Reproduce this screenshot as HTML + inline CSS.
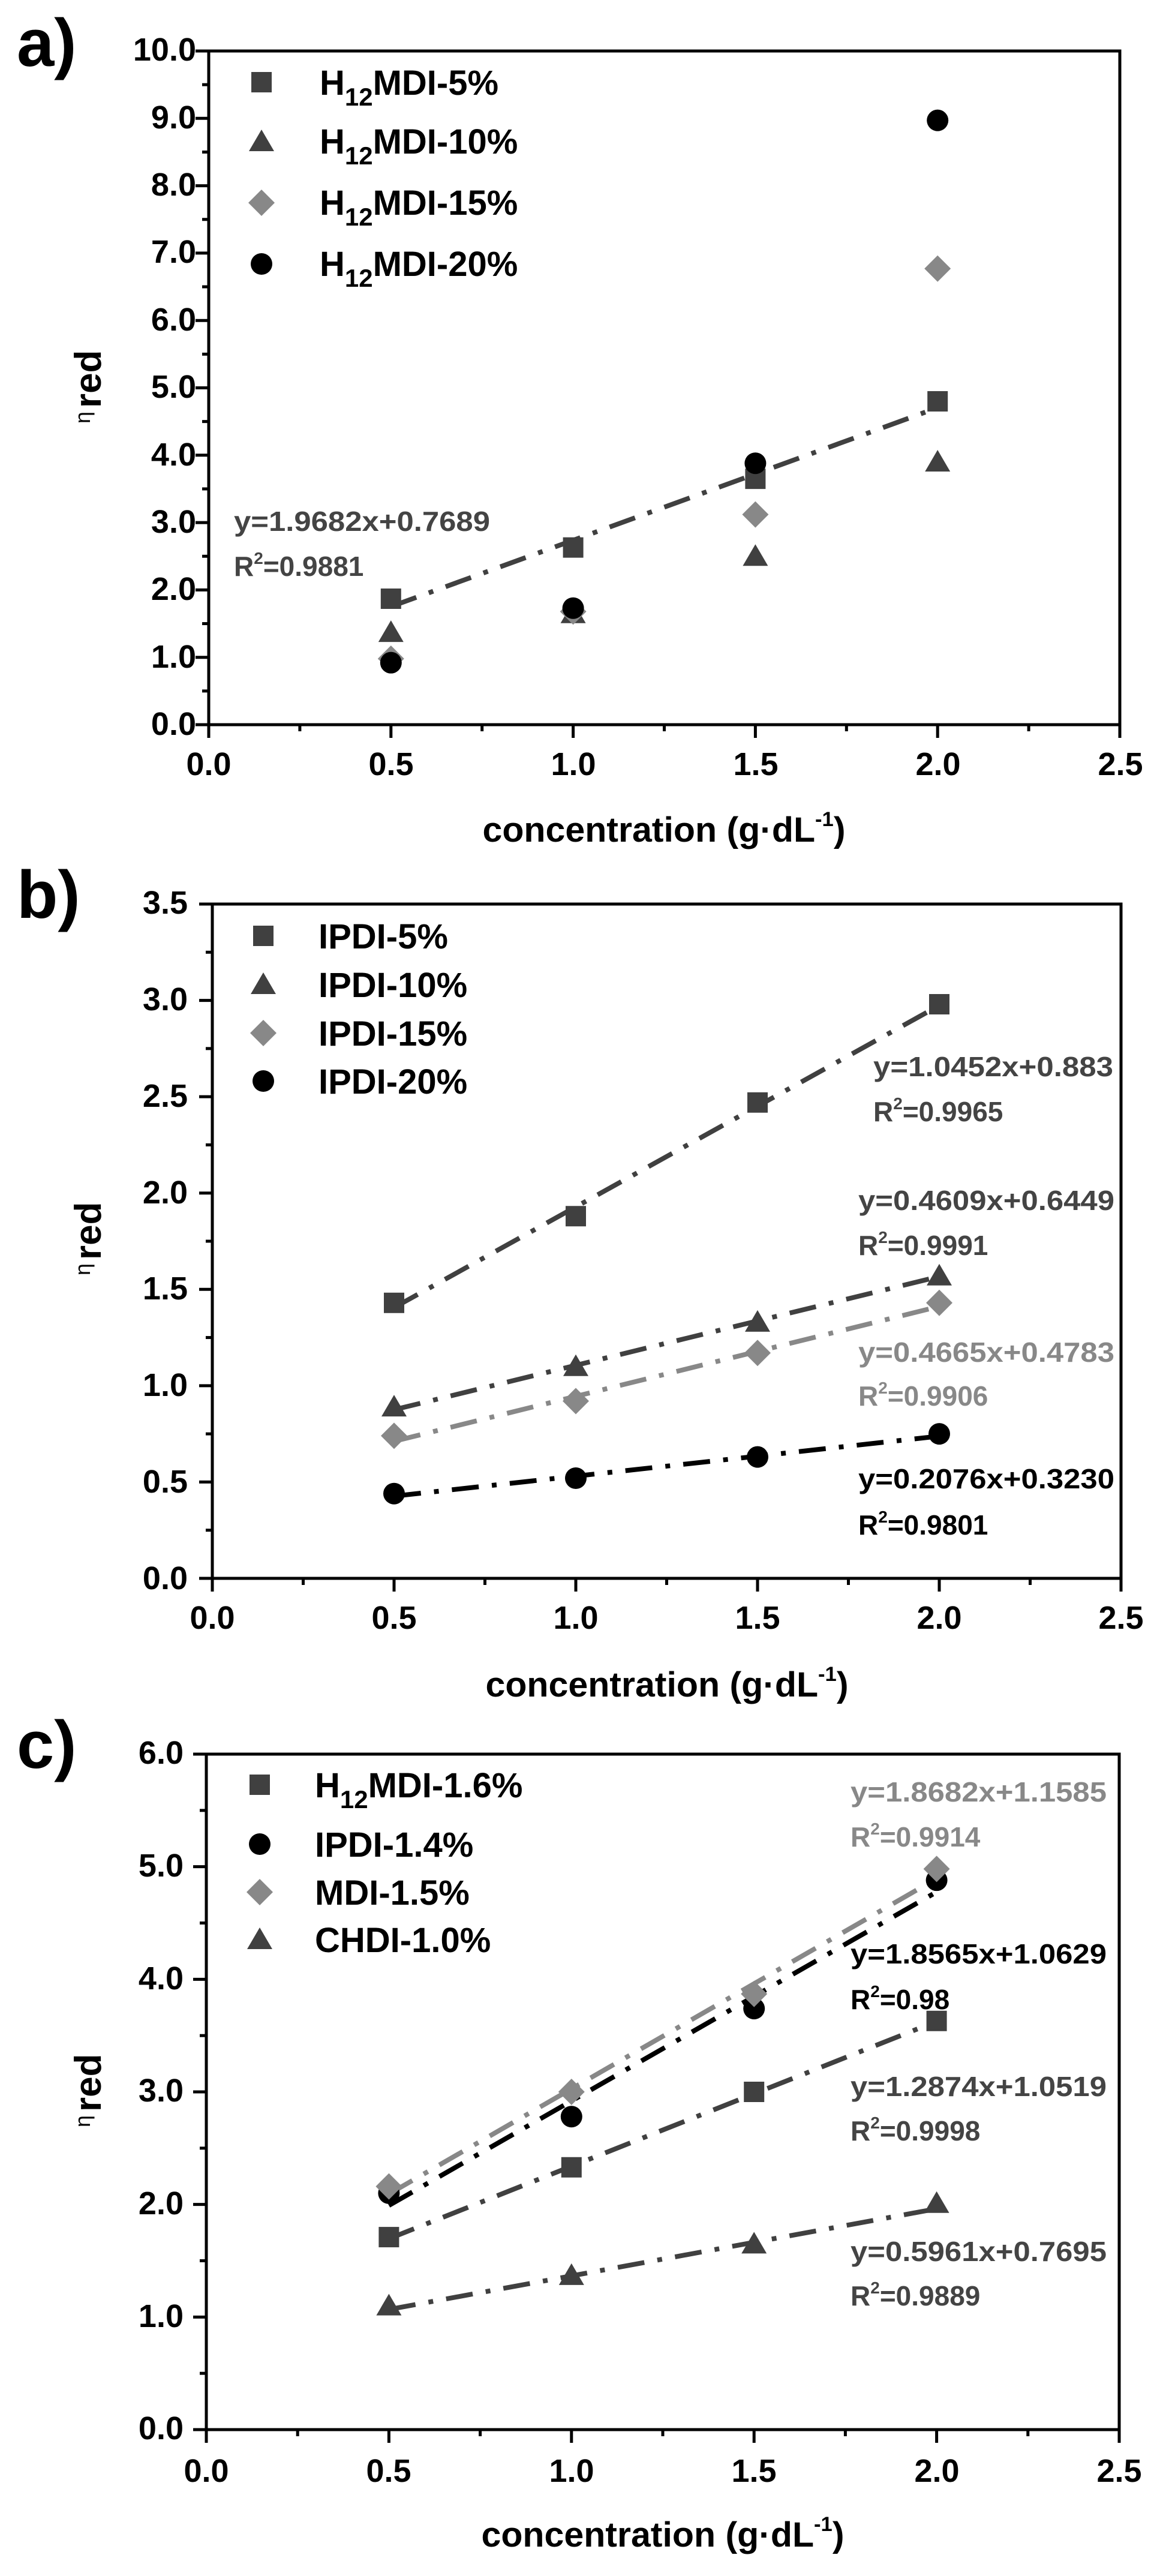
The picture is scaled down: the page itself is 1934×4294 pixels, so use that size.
<!DOCTYPE html>
<html><head><meta charset="utf-8"><style>
html,body{margin:0;padding:0;background:#fff;}
svg{display:block;font-family:"Liberation Sans",Arial,sans-serif;font-weight:bold;}
</style></head><body>
<svg id="s" width="1934" height="4294" viewBox="0 0 1934 4294" xmlns="http://www.w3.org/2000/svg">
<rect width="1934" height="4294" fill="#fff"/>
<g id="g"></g>
<text x="28" y="110" font-size="112">a)</text>
<text x="28" y="1530" font-size="112">b)</text>
<text x="28" y="2947" font-size="112">c)</text>

<g font-size="62">
<text transform="translate(168,680) rotate(-90)">red</text>
<text transform="translate(168,2100) rotate(-90)">red</text>
<text transform="translate(168,3520) rotate(-90)">red</text>
</g>
<g font-size="36" font-weight="normal">
<text transform="translate(150,706) rotate(-90)">η</text>
<text transform="translate(150,2126) rotate(-90)">η</text>
<text transform="translate(150,3546) rotate(-90)">η</text>
</g>

<g font-size="58" text-anchor="middle">
<text x="1107" y="1403" textLength="605" lengthAdjust="spacingAndGlyphs">concentration (g·dL<tspan font-size="34" dy="-26">-1</tspan><tspan dy="26">)</tspan></text>
<text x="1112" y="2828" textLength="605" lengthAdjust="spacingAndGlyphs">concentration (g·dL<tspan font-size="34" dy="-26">-1</tspan><tspan dy="26">)</tspan></text>
<text x="1105" y="4245" textLength="605" lengthAdjust="spacingAndGlyphs">concentration (g·dL<tspan font-size="34" dy="-26">-1</tspan><tspan dy="26">)</tspan></text>
</g>

<g font-size="54" text-anchor="end">
<text x="327" y="101">10.0</text><text x="327" y="214">9.0</text><text x="327" y="326">8.0</text><text x="327" y="438">7.0</text><text x="327" y="551">6.0</text><text x="327" y="663">5.0</text><text x="327" y="776">4.0</text><text x="327" y="888">3.0</text><text x="327" y="1000">2.0</text><text x="327" y="1113">1.0</text><text x="327" y="1225">0.0</text>
</g>
<g font-size="54" text-anchor="middle">
<text x="348" y="1292">0.0</text><text x="652" y="1292">0.5</text><text x="956" y="1292">1.0</text><text x="1260" y="1292">1.5</text><text x="1564" y="1292">2.0</text><text x="1868" y="1292">2.5</text>
</g>
<g font-size="54" text-anchor="end">
<text x="313" y="1523">3.5</text><text x="313" y="1684">3.0</text><text x="313" y="1845">2.5</text><text x="313" y="2006">2.0</text><text x="313" y="2166">1.5</text><text x="313" y="2327">1.0</text><text x="313" y="2488">0.5</text><text x="313" y="2649">0.0</text>
</g>
<g font-size="54" text-anchor="middle">
<text x="354" y="2715">0.0</text><text x="657" y="2715">0.5</text><text x="960" y="2715">1.0</text><text x="1263" y="2715">1.5</text><text x="1566" y="2715">2.0</text><text x="1869" y="2715">2.5</text>
</g>
<g font-size="54" text-anchor="end">
<text x="306" y="2940">6.0</text><text x="306" y="3128">5.0</text><text x="306" y="3316">4.0</text><text x="306" y="3503">3.0</text><text x="306" y="3691">2.0</text><text x="306" y="3879">1.0</text><text x="306" y="4066">0.0</text>
</g>
<g font-size="54" text-anchor="middle">
<text x="344" y="4137">0.0</text><text x="648" y="4137">0.5</text><text x="953" y="4137">1.0</text><text x="1257" y="4137">1.5</text><text x="1562" y="4137">2.0</text><text x="1866" y="4137">2.5</text>
</g>

<g font-size="58">
<text x="533" y="158">H<tspan font-size="42" dy="18">12</tspan><tspan dy="-18">MDI-5%</tspan></text>
<text x="533" y="256">H<tspan font-size="42" dy="18">12</tspan><tspan dy="-18">MDI-10%</tspan></text>
<text x="533" y="358">H<tspan font-size="42" dy="18">12</tspan><tspan dy="-18">MDI-15%</tspan></text>
<text x="533" y="460">H<tspan font-size="42" dy="18">12</tspan><tspan dy="-18">MDI-20%</tspan></text>
<text x="531" y="1581">IPDI-5%</text>
<text x="531" y="1662">IPDI-10%</text>
<text x="531" y="1743">IPDI-15%</text>
<text x="531" y="1823">IPDI-20%</text>
<text x="525" y="2996">H<tspan font-size="42" dy="18">12</tspan><tspan dy="-18">MDI-1.6%</tspan></text>
<text x="525" y="3095">IPDI-1.4%</text>
<text x="525" y="3175">MDI-1.5%</text>
<text x="525" y="3254">CHDI-1.0%</text>
</g>

<g font-size="46">
<text x="390" y="885" fill="#444" textLength="427" lengthAdjust="spacingAndGlyphs">y=1.9682x+0.7689</text>
<text x="390" y="960" fill="#444">R<tspan font-size="28" dy="-20">2</tspan><tspan dy="20">=0.9881</tspan></text>

<text x="1456" y="1794" fill="#444" textLength="400" lengthAdjust="spacingAndGlyphs">y=1.0452x+0.883</text>
<text x="1456" y="1869" fill="#444">R<tspan font-size="28" dy="-20">2</tspan><tspan dy="20">=0.9965</tspan></text>
<text x="1431" y="2017" fill="#444" textLength="427" lengthAdjust="spacingAndGlyphs">y=0.4609x+0.6449</text>
<text x="1431" y="2092" fill="#444">R<tspan font-size="28" dy="-20">2</tspan><tspan dy="20">=0.9991</tspan></text>
<text x="1431" y="2270" fill="#888" textLength="427" lengthAdjust="spacingAndGlyphs">y=0.4665x+0.4783</text>
<text x="1431" y="2343" fill="#888">R<tspan font-size="28" dy="-20">2</tspan><tspan dy="20">=0.9906</tspan></text>
<text x="1431" y="2481" fill="#000" textLength="427" lengthAdjust="spacingAndGlyphs">y=0.2076x+0.3230</text>
<text x="1431" y="2558" fill="#000">R<tspan font-size="28" dy="-20">2</tspan><tspan dy="20">=0.9801</tspan></text>

<text x="1418" y="3003" fill="#888" textLength="427" lengthAdjust="spacingAndGlyphs">y=1.8682x+1.1585</text>
<text x="1418" y="3078" fill="#888">R<tspan font-size="28" dy="-20">2</tspan><tspan dy="20">=0.9914</tspan></text>
<text x="1418" y="3273" fill="#000" textLength="427" lengthAdjust="spacingAndGlyphs">y=1.8565x+1.0629</text>
<text x="1418" y="3349" fill="#000">R<tspan font-size="28" dy="-20">2</tspan><tspan dy="20">=0.98</tspan></text>
<text x="1418" y="3494" fill="#444" textLength="427" lengthAdjust="spacingAndGlyphs">y=1.2874x+1.0519</text>
<text x="1418" y="3568" fill="#444">R<tspan font-size="28" dy="-20">2</tspan><tspan dy="20">=0.9998</tspan></text>
<text x="1418" y="3769" fill="#444" textLength="427" lengthAdjust="spacingAndGlyphs">y=0.5961x+0.7695</text>
<text x="1418" y="3843" fill="#444">R<tspan font-size="28" dy="-20">2</tspan><tspan dy="20">=0.9889</tspan></text>
</g>
</svg>
<script>
(function(){
var NS="http://www.w3.org/2000/svg",g=document.getElementById("g");
function el(t,a){var e=document.createElementNS(NS,t);for(var k in a)e.setAttribute(k,a[k]);g.appendChild(e);return e;}
function marker(type,cx,cy,col){
 var s=17;
 if(type=="sq")el("rect",{x:cx-s,y:cy-s,width:2*s,height:2*s,fill:col});
 else if(type=="ci")el("circle",{cx:cx,cy:cy,r:18,fill:col});
 else if(type=="tr")el("polygon",{points:(cx)+","+(cy-20)+" "+(cx+21)+","+(cy+16)+" "+(cx-21)+","+(cy+16),fill:col});
 else if(type=="di")el("polygon",{points:cx+","+(cy-22)+" "+(cx+22)+","+cy+" "+cx+","+(cy+22)+" "+(cx-22)+","+cy,fill:col});
}
function panel(P){
 var X=function(v){return P.l+(P.r-P.l)*v/2.5},Y=function(v){return P.b-(P.b-P.t)*v/P.ymax};
 P.fits.forEach(function(f){el("line",{x1:X(0.5),y1:Y(f.m*0.5+f.c),x2:X(2),y2:Y(f.m*2+f.c),stroke:f.col,"stroke-width":8,"stroke-dasharray":"45,22,8,22"});});
 P.series.forEach(function(s){s.d.forEach(function(v,i){marker(s.t,X(0.5*(i+1)),Y(v),s.c);});});
 P.leg.forEach(function(L){marker(L.t,L.x,L.y,L.c);});
 el("rect",{x:P.l,y:P.t,width:P.r-P.l,height:P.b-P.t,fill:"none",stroke:"#000","stroke-width":5});
 for(var i=0;i<=10;i++){var x=X(i*0.25);el("line",{x1:x,y1:P.b,x2:x,y2:P.b+(i%2?11:22),stroke:"#000","stroke-width":5});}
 var n=P.ymax/P.ystep*2;
 for(var j=0;j<=n;j++){var y=Y(j*P.ystep/2);el("line",{x1:P.l,y1:y,x2:P.l-(j%2?11:22),y2:y,stroke:"#000","stroke-width":5});}
}
var dk="#404040",gr="#888888",bk="#000";
panel({l:348,r:1867,t:85,b:1208,ymax:10,ystep:1,
 fits:[{m:1.9682,c:0.7689,col:dk}],
 series:[{t:"tr",c:dk,d:[1.37,1.65,2.5,3.9]},{t:"di",c:gr,d:[0.98,1.68,3.12,6.77]},{t:"sq",c:dk,d:[1.87,2.63,3.65,4.8]},{t:"ci",c:bk,d:[0.92,1.73,3.88,8.97]}],
 leg:[{t:"sq",x:436,y:137,c:dk},{t:"tr",x:436,y:236,c:dk},{t:"di",x:436,y:338,c:gr},{t:"ci",x:436,y:440,c:bk}]});
panel({l:354,r:1869,t:1507,b:2631,ymax:3.5,ystep:0.5,
 fits:[{m:1.0452,c:0.883,col:dk},{m:0.4609,c:0.6449,col:dk},{m:0.4665,c:0.4783,col:gr},{m:0.2076,c:0.323,col:bk}],
 series:[{t:"sq",c:dk,d:[1.43,1.88,2.47,2.98]},{t:"tr",c:dk,d:[0.89,1.10,1.33,1.57]},{t:"di",c:gr,d:[0.74,0.92,1.17,1.43]},{t:"ci",c:bk,d:[0.44,0.52,0.63,0.75]}],
 leg:[{t:"sq",x:439,y:1560,c:dk},{t:"tr",x:439,y:1641,c:dk},{t:"di",x:439,y:1722,c:gr},{t:"ci",x:439,y:1802,c:bk}]});
panel({l:344,r:1866,t:2924,b:4050,ymax:6,ystep:1,
 fits:[{m:1.2874,c:1.0519,col:dk},{m:0.5961,c:0.7695,col:dk},{m:1.8565,c:1.0629,col:bk},{m:1.8682,c:1.1585,col:gr}],
 series:[{t:"sq",c:dk,d:[1.71,2.33,3.0,3.63]},{t:"tr",c:dk,d:[1.1,1.37,1.65,2.01]},{t:"ci",c:bk,d:[2.1,2.78,3.74,4.88]},{t:"di",c:gr,d:[2.16,3.0,3.87,4.98]}],
 leg:[{t:"sq",x:433,y:2975,c:dk},{t:"ci",x:433,y:3074,c:bk},{t:"di",x:433,y:3154,c:gr},{t:"tr",x:433,y:3233,c:dk}]});
})();
</script>
</body></html>
